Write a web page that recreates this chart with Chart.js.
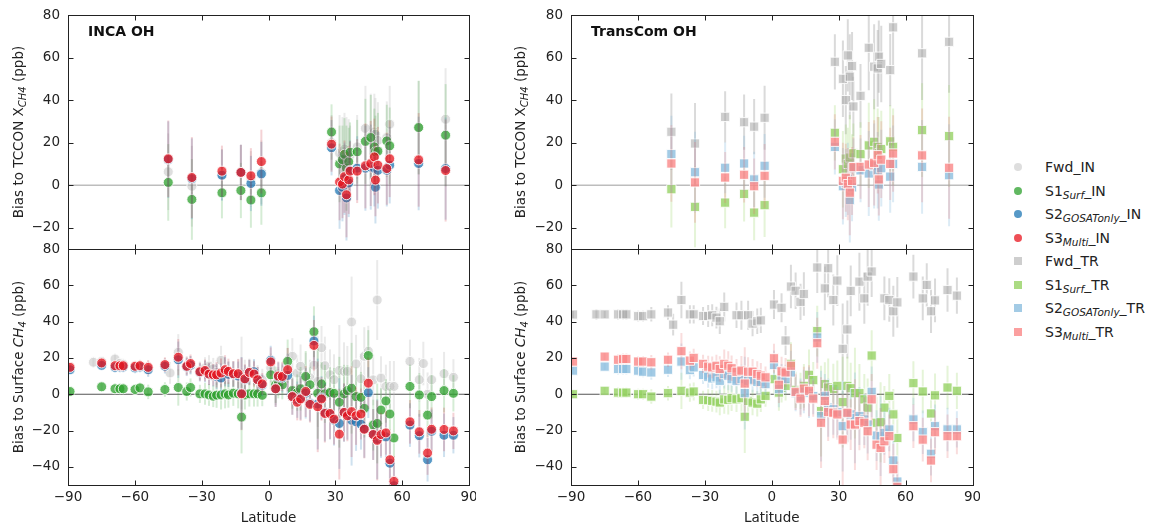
<!DOCTYPE html>
<html>
<head>
<meta charset="utf-8">
<script src="https://cdn.jsdelivr.net/npm/chart.js@4.4.1/dist/chart.umd.min.js"></script>
<style>
  body { margin: 0; width: 1158px; height: 531px; background: #fff; position: relative; overflow: hidden;
         font-family: "DejaVu Sans", sans-serif; color: #222; }
  canvas { position: absolute; }
  .yt { position: absolute; transform: translate(-50%, -50%) rotate(-90deg); white-space: nowrap; font-size: 13.5px; }
  .yt sub, .lg sub { font-size: 10px; vertical-align: baseline; position: relative; top: 3px; }
  .lg { position: absolute; left: 1014px; height: 0; }
  .lg sub { font-size: 10.5px; }
  .mk { position: absolute; left: 0; top: -4px; width: 8px; height: 8px; }
  .tx { position: absolute; left: 31px; top: -9px; line-height: 18px; white-space: nowrap; font-size: 14px; }
</style>
</head>
<body>
<canvas id="incaCol" width="476" height="531" style="left:0;top:0"></canvas>
<canvas id="tcCol" width="480" height="531" style="left:500px;top:0"></canvas>

<div class="yt" style="left:18px;top:132px">Bias to TCCON X<sub><i>CH4</i></sub> (ppb)</div>
<div class="yt" style="left:18px;top:367px">Bias to Surface <i>CH<sub>4</sub></i> (ppb)</div>
<div class="yt" style="left:520px;top:132px">Bias to TCCON X<sub><i>CH4</i></sub> (ppb)</div>
<div class="yt" style="left:520px;top:367px">Bias to Surface <i>CH<sub>4</sub></i> (ppb)</div>

<div id="legend"></div>

<script>
// x axis ticks (latitude) and y ticks
const latTicks = [-90, -60, -30, 0, 30, 60, 90];
const tcconTicks = [-20, 0, 20, 40, 60, 80];
const surfTicks = [-40, -20, 0, 20, 40, 60, 80];

// TCCON sites
const tcconLat = [-45.0, -34.4, -20.9, -12.4, -7.9, -3.2, 28.3, 31.9, 33.2, 34.1, 35.0, 36.0,
  36.6, 39.8, 43.5, 45.9, 47.5, 48.0, 49.1, 53.1, 54.4, 67.4, 79.5];
const tcconErr = [18, 19, 12, 13, 13, 15, 13, 18, 16, 17, 20, 16, 14, 15, 20, 20, 18, 17, 18, 17, 18, 22, 24];

const incaTcconFwd = [6.3, -0.5, 5, 6, 3, 6, 20, 15, 16, 17, 12, 15, 14, 18, 26.7, 23, 25, 24, 21, 22.4, 28.7, 27, 31];
const incaTcconS1 = [1.3, -6.7, -3.6, -2.5, -7, -3.6, 25, 10, 12, 14.5, 8, 11, 15.5, 15.7, 20.6, 22.4, 18, 15.7, 16, 20.8, 18.5, 27.1, 23.5];
const incaTcconS2 = [12, 3, 4.7, 6, 0.8, 5.3, 17.6, -2.5, -1, 3, -6, 1, 7, 8, 8, 8.5, 8, -1, 7, 7, 9.4, 10.2, 7.8];
const incaTcconS3 = [12.4, 3.6, 6.6, 6, 4.4, 11.1, 19.3, 1.5, 0.5, 4, -4.5, 2.5, 6.6, 6.6, 9.1, 10.2, 13.3, 2.4, 9.4, 7.8, 12.4, 11.9, 6.9];

const tcTcconFwd = [25.1, 19.6, 32.1, 29.6, 27.5, 31.7, 58, 50, 40, 61, 51, 56, 37, 42, 64.6, 55.7, 54.9, 60.4, 57, 54.1, 74.2, 62, 67.4];
const tcTcconS1 = [-1.9, -10.2, -8.2, -4.1, -12.9, -9.4, 24.6, 7.5, 12.5, 10, 13, 8, 15, 14.6, 18.7, 20.4, 18, 15, 17, 20.6, 18, 25.9, 23.1];
const tcTcconS2 = [14.6, 6.1, 8.2, 10.2, 2.7, 9.1, 18, -0.5, 1, 3, -7, -1, 8, 7, 5.5, 9, 7, 0.3, 8, 4, 10, 8.6, 4.7];
const tcTcconS3 = [10.2, 1.3, 3.6, 4.9, -0.5, 4.4, 20.4, 2, 3.5, 0.5, -3.5, 2, 8.5, 8.6, 9.7, 10.5, 14.1, 2.7, 12, 10, 14.9, 14, 8.2];

// surface sites
const surfLat = [-89.1, -78.6, -74.9, -68.9, -66.7, -65.2, -59.9, -57.7, -54.0, -46.5,
  -44.2, -40.5, -36.7, -35.0, -30.8, -28.5, -26.7, -24.8, -23.3, -21.3,
  -19.5, -18.0, -15.8, -13.6, -12.1, -10.6, -8.6, -6.5, -4.9, -2.8,
  1.0, 3.2, 4.4, 6.2, 8.6, 10.7, 12.9, 14.4, 16.7, 18.6,
  20.4, 22.1, 23.8, 25.3, 27.6, 29.4, 31.8, 33.9, 35.4, 37.3,
  39.3, 41.5, 43.0, 44.8, 47.0, 48.8, 50.5, 52.7, 54.5, 56.3,
  63.5, 67.7, 69.5, 71.4, 73.2, 78.8, 83.0];
const surfErr = [2, 3, 2, 3, 3, 3, 3, 3, 4, 4,
  6, 10, 5, 5, 5, 6, 6, 6, 7, 8,
  8, 7, 7, 8, 20, 8, 7, 7, 7, 6,
  8, 10, 8, 8, 12, 10, 10, 12, 14, 10,
  14, 25, 12, 16, 14, 14, 25, 16, 14, 25,
  16, 14, 16, 14, 14, 22, 12, 12, 14, 14,
  12, 12, 12, 12, 12, 12, 10];

const incaSurfFwd = [15, 17.6, 18, 19.4, 17, 16.5, 15, 16, 14, 16,
  11.7, 23.1, 16, 16, 13, 14.4, 15.5, 14, 12, 18.7,
  12, 11, 11, 11.5, 11.7, 11, 12.6, 11.7, 9, 8,
  14.4, 4, 7, 8, 13.5, 20.9, 11.7, 15.4, 8.9, 9,
  16, 7, 25.6, 15.7, 10.7, 8, 13.1, 12.6, 12.6, 39.8,
  16.7, 8.5, 20.9, 23.7, 7.9, 51.9, 8.9, 4.3, 4.3, 4.3,
  18.1, 8, 16.9, 0, 8, 11.3, 9.3];
const incaSurfS1 = [1.5, null, 4.1, 3, 3, 3, 2.6, 3.5, 1.3, 2.6,
  null, 3.7, 1.5, 3.7, 0.2, 0.2, -0.4, -1.1, -0.5, -0.4,
  0.2, -0.4, 0.6, 0.2, -12.6, -0.4, 0.2, 0.2, 0.2, -0.6,
  10.7, 5.2, 5.7, 5.2, 18.1, 2, 0.9, 3, 9.8, 5.2,
  34.4, 0.5, 5.7, 0.2, 0.9, 0.5, -4.4, 0.2, 2, 3.3,
  -1.3, -1.7, -7.8, 21.3, -17, -16.1, -8.7, -3.7, -10.9, -24.1,
  4.3, -0.4, null, -11.5, -1.3, 2, 0.5];
const incaSurfS2 = [13.5, null, 15.9, 14.8, 15, 15, 14.5, 15, 13.5, 15.4,
  null, 19, 15, 16, 12, 12.5, 11, 10.2, 9.8, 8.9,
  12.5, 11, 11, 10, 0.5, 8, 12, 12.4, 8, 5,
  18.7, 3, 9.5, 9, 10.4, -1.3, -3, -2, 0.6, -5,
  29.3, -5.4, -2, -10, -11, -14.3, -16.1, -10.2, -11, -14.3,
  -15.2, -16.5, -19, 0.9, -22.2, -24.8, -23.1, -23.5, -38, -50.4,
  -17, -22.8, null, -36.1, -20.4, -22.6, -22.6];
const incaSurfS3 = [14.8, null, 17.2, 15.7, 15.7, 15.7, 15.4, 15.7, 14.8, 16.3,
  null, 20.4, 15.4, 16.9, 12.4, 13.1, 11.1, 10.7, 10.7, 11.7,
  13.5, 12.6, 11.3, 11.3, 0.2, 8.5, 12, 11.1, 8, 5.7,
  17.8, 3, 10, 9.8, 13.5, -1.3, -4.4, -2.6, 1.5, -5.6,
  26.9, -6.9, -2.6, -10.6, -10.6, -13.7, -22, -10, -11.9, -9.6,
  -11.9, -10.9, -19.3, 6.1, -22.2, -25.4, -22.2, -21.3, -36.1, -48,
  -15.2, -20.7, null, -32.4, -19.3, -19.4, -20.2];

const tcSurfFwd = [43.9, 44, 44, 44, 44, 44, 43, 43, 44, 45,
  38.3, 51.9, 44, 44, 43.1, 43.1, 43.5, 42.2, 40.2, 48.1,
  null, null, 43.5, 43.5, null, 43.5, 38.9, 40.2, 40.7, null,
  49.4, null, 47.6, 29.6, 59.3, 57, 50.9, 55.2, null, null,
  69.8, null, 58.3, 69.4, 51.9, 62.6, 25, 35.7, 56.9, null,
  62, 52.8, 64.8, 67.6, null, null, 52.8, 51.9, 45.7, 50.6,
  64.8, 52.8, 60.2, 45.7, 51.7, 57.4, 54.3];
const tcSurfS1 = [0, null, 1.9, 0.9, 0.9, 0.9, 0, 0, -1.3, 0.6,
  null, 1.9, 0.9, 1.5, -3.1, -3.3, -3.7, -4.1, -4.6, -2.8,
  -3.1, -2.2, -2.8, -2.2, -12.4, -3.7, -4.6, -5.2, -2.8, -0.9,
  8.3, 0.9, 3.5, 4.6, 16.7, 2.4, 1.9, 4.6, 10.7, 7.8,
  34.8, -9.3, 5.6, 3.7, 2.8, 4.6, -4.3, 4.6, 3.3, 0.6,
  0.6, -2.8, -7.4, 21.3, -15.7, -15.4, -7.4, -0.9, -11.1, -24.1,
  6.1, 1.5, null, -10.6, -0.6, 3.7, 1.9];
const tcSurfS2 = [13, null, 15.2, 13.9, 13.9, 13.9, 13, 12.4, 12, 13.5,
  null, 18, 13.3, 14.8, 10.6, 9.6, 8.7, 9.3, 7.4, 11.1,
  10.2, 8.3, 7.4, 8.3, 0.6, 7.4, 8, 6.8, 6.8, 5.6,
  16.1, 2.8, 8.7, 8.3, 12, 0.6, -1.3, 1.5, 0.9, -1,
  31.3, -12, -0.9, -7.4, -8.3, -9.8, -17.6, -10.6, -11.1, -13,
  -12, -13.9, -16.7, 1.3, -22.8, -23.1, -21.3, -19.4, -36.5, -48.1,
  -13.9, -20.9, null, -32.8, -17.6, -19.4, -19.4];
const tcSurfS3 = [18, null, 20.7, 19, 19.4, 19.4, 18, 18, 17.6, 19,
  null, 23.7, 18.5, 20, 16.7, 15.2, 14.8, 15.7, 13.9, 16.7,
  15.7, 14.3, 12.4, 13, 5.9, 12.4, 12.4, 11.1, 10.2, 9.3,
  19.8, 5.2, 12.6, 12, 15.7, 1.3, -2.4, 3.1, 1.9, -2.4,
  28.1, -15.7, -3.7, -9.8, -10.2, -11.1, -25, -10.2, -16.7, -16.7,
  -14.8, -15.7, -20.4, -2.8, -27.8, -29.6, -25.9, -23.1, -41.3, -51,
  -17.6, -25, null, -36.5, -20.9, -23.1, -23.1];

// series styles (IN = circles, TR = squares)
const inStyles = [
  { label: 'Fwd_IN', html: 'Fwd_IN', fill: 'rgba(195,195,195,0.55)', bar: 'rgba(185,185,185,0.3)' },
  { label: 'S1_Surf_IN', html: 'S1<sub><i>Surf</i></sub>_IN', fill: 'rgba(44,160,44,0.75)', bar: 'rgba(44,160,44,0.2)' },
  { label: 'S2_GOSATonly_IN', html: 'S2<sub><i>GOSATonly</i></sub>_IN', fill: 'rgba(31,119,180,0.75)', bar: 'rgba(31,119,180,0.22)' },
  { label: 'S3_Multi_IN', html: 'S3<sub><i>Multi</i></sub>_IN', fill: 'rgba(232,20,30,0.75)', bar: 'rgba(200,30,45,0.2)' }
];
const trStyles = [
  { label: 'Fwd_TR', html: 'Fwd_TR', fill: 'rgba(165,165,165,0.55)', bar: 'rgba(150,150,150,0.35)' },
  { label: 'S1_Surf_TR', html: 'S1<sub><i>Surf</i></sub>_TR', fill: 'rgba(150,210,100,0.8)', bar: 'rgba(150,210,100,0.25)' },
  { label: 'S2_GOSATonly_TR', html: 'S2<sub><i>GOSATonly</i></sub>_TR', fill: 'rgba(140,190,222,0.8)', bar: 'rgba(140,190,222,0.3)' },
  { label: 'S3_Multi_TR', html: 'S3<sub><i>Multi</i></sub>_TR', fill: 'rgba(250,135,135,0.8)', bar: 'rgba(230,120,120,0.25)' }
];

Chart.defaults.font.family = '"DejaVu Sans", sans-serif';
Chart.defaults.font.size = 13.5;
Chart.defaults.color = '#222';

const fmt = v => (v < 0 ? '\u2212' + Math.abs(v) : String(v));
const snap = v => Math.round(v) + 0.5;

// zero lines, error bars, frames with inward ticks, panel label
const axesDeco = {
  id: 'axesDeco',
  beforeDatasetsDraw(chart, args, o) {
    const { ctx, chartArea: a } = chart;
    ctx.save();
    o.zero.forEach(z => {
      const py = chart.scales[z.id].getPixelForValue(0);
      ctx.strokeStyle = z.color;
      ctx.lineWidth = z.width;
      ctx.beginPath();
      ctx.moveTo(a.left, py);
      ctx.lineTo(a.right, py);
      ctx.stroke();
    });
    ctx.restore();
  },
  beforeDatasetDraw(chart, args) {
    const ds = chart.data.datasets[args.index];
    const y = chart.scales[ds.yAxisID];
    const a = chart.chartArea;
    const ctx = chart.ctx;
    ctx.save();
    ctx.beginPath();
    ctx.rect(a.left, y.top, a.right - a.left, y.bottom - y.top);
    ctx.clip();
    ctx.strokeStyle = ds.barColor;
    ctx.lineWidth = 2;
    ds.data.forEach((p, j) => {
      const el = args.meta.data[j];
      ctx.beginPath();
      ctx.moveTo(el.x, y.getPixelForValue(p.y - p.e));
      ctx.lineTo(el.x, y.getPixelForValue(p.y + p.e));
      ctx.stroke();
    });
    ctx.restore();
  },
  afterDraw(chart, args, o) {
    const { ctx, chartArea: a, scales } = chart;
    const x = scales.x, yT = scales.yTop, yB = scales.yBot;
    const L = snap(a.left), R = snap(a.right), T = snap(yT.top), M = snap(yT.bottom), B = snap(yB.bottom);
    ctx.save();
    ctx.strokeStyle = '#222';
    ctx.lineWidth = 1;
    ctx.strokeRect(L, T, R - L, B - T);
    ctx.beginPath();
    ctx.moveTo(L, M); ctx.lineTo(R, M);
    latTicks.forEach(v => {
      const px = snap(x.getPixelForValue(v));
      ctx.moveTo(px, T); ctx.lineTo(px, T + 5);
      ctx.moveTo(px, M - 5); ctx.lineTo(px, M + 5);
      ctx.moveTo(px, B); ctx.lineTo(px, B - 5);
    });
    [[yT, tcconTicks], [yB, surfTicks]].forEach(([s, ticks]) => {
      ticks.forEach(v => {
        const py = snap(s.getPixelForValue(v));
        ctx.moveTo(L, py); ctx.lineTo(L + 5, py);
        ctx.moveTo(R, py); ctx.lineTo(R - 5, py);
      });
    });
    ctx.stroke();
    ctx.fillStyle = '#111';
    ctx.font = 'bold 14px "DejaVu Sans", sans-serif';
    ctx.textBaseline = 'middle';
    ctx.fillText(o.label, a.left + 20, yT.top + 17);
    ctx.restore();
  }
};

function points(lat, vals, err) {
  const pts = [];
  lat.forEach((x, i) => {
    if (vals[i] !== null) pts.push({ x: x, y: vals[i], e: err[i] });
  });
  return pts;
}

function seriesSets(p, axis, lat, err, series) {
  return series.map((vals, k) => ({
    label: p.styles[k].label,
    data: points(lat, vals, err),
    yAxisID: axis,
    pointStyle: p.square ? 'rect' : 'circle',
    pointRadius: p.square ? 6.5 : 5,
    backgroundColor: p.styles[k].fill,
    borderColor: 'rgba(255,255,255,0.85)',
    borderWidth: 1,
    barColor: p.styles[k].bar,
    order: 4 - k
  }));
}

function yScale(p, ticks, min, weight) {
  return {
    type: 'linear', position: 'left', stack: 'col', stackWeight: weight,
    min: min, max: 80,
    afterBuildTicks: s => { s.ticks = ticks.map(v => ({ value: v })); },
    afterFit: s => { s.width = p.yWidth; s.paddingTop = 0; s.paddingBottom = 0; },
    grid: { display: false, drawTicks: false }, border: { display: false },
    ticks: { padding: 8, autoSkip: false, callback: fmt }
  };
}

// one chart per column: TCCON panel stacked above the surface panel
function makeColumn(id, p, swap) {
  const scales = {
    x: {
      type: 'linear', min: -90, max: 90,
      afterBuildTicks: s => { s.ticks = latTicks.map(v => ({ value: v })); },
      afterFit: s => { s.height = 46; s.paddingLeft = 0; s.paddingRight = 0; },
      grid: { display: false, drawTicks: false }, border: { display: false },
      ticks: { padding: 4, autoSkip: false, maxRotation: 0, callback: fmt },
      title: { display: true, text: 'Latitude', padding: { top: 0, bottom: 4 } }
    }
  };
  const yTop = yScale(p, tcconTicks, -30, 234);
  const yBot = yScale(p, surfTicks, -50, 236);
  if (swap) { scales.yBot = yBot; scales.yTop = yTop; } else { scales.yTop = yTop; scales.yBot = yBot; }

  const datasets = seriesSets(p, 'yTop', tcconLat, tcconErr, p.tccon)
    .concat(seriesSets(p, 'yBot', surfLat, surfErr, p.surf));

  const chart = new Chart(document.getElementById(id), {
    type: 'scatter',
    data: { datasets },
    plugins: [axesDeco],
    options: {
      responsive: false,
      animation: false,
      events: [],
      devicePixelRatio: 1,
      layout: { padding: { top: 15, right: 7, left: 0, bottom: 0 } },
      plugins: {
        legend: { display: false },
        tooltip: { enabled: false },
        axesDeco: {
          label: p.label,
          zero: [{ id: 'yTop', color: '#bdbdbd', width: 1.5 }, { id: 'yBot', color: '#555', width: 1.2 }]
        }
      },
      scales: scales
    }
  });
  // the stacking order follows the scale order; rebuild once if TCCON did not land on top
  if (!swap && chart.scales.yTop.top > chart.scales.yBot.top) {
    chart.destroy();
    return makeColumn(id, p, true);
  }
  return chart;
}

makeColumn('incaCol', { label: 'INCA OH', yWidth: 68, styles: inStyles,
  tccon: [incaTcconFwd, incaTcconS1, incaTcconS2, incaTcconS3],
  surf: [incaSurfFwd, incaSurfS1, incaSurfS2, incaSurfS3] });
makeColumn('tcCol', { label: 'TransCom OH', yWidth: 71, square: true, styles: trStyles,
  tccon: [tcTcconFwd, tcTcconS1, tcTcconS2, tcTcconS3],
  surf: [tcSurfFwd, tcSurfS1, tcSurfS2, tcSurfS3] });

// legend
const legendRows = inStyles.map(s => ({ s, round: true })).concat(trStyles.map(s => ({ s, round: false })));
const legend = document.getElementById('legend');
legendRows.forEach((r, i) => {
  const row = document.createElement('div');
  row.className = 'lg';
  row.style.top = (167 + i * 23.5) + 'px';
  row.innerHTML = '<span class="mk" style="background:' + r.s.fill + ';border-radius:' + (r.round ? '50%' : '0') +
    '"></span><span class="tx">' + r.s.html + '</span>';
  legend.appendChild(row);
});
</script>
</body>
</html>
